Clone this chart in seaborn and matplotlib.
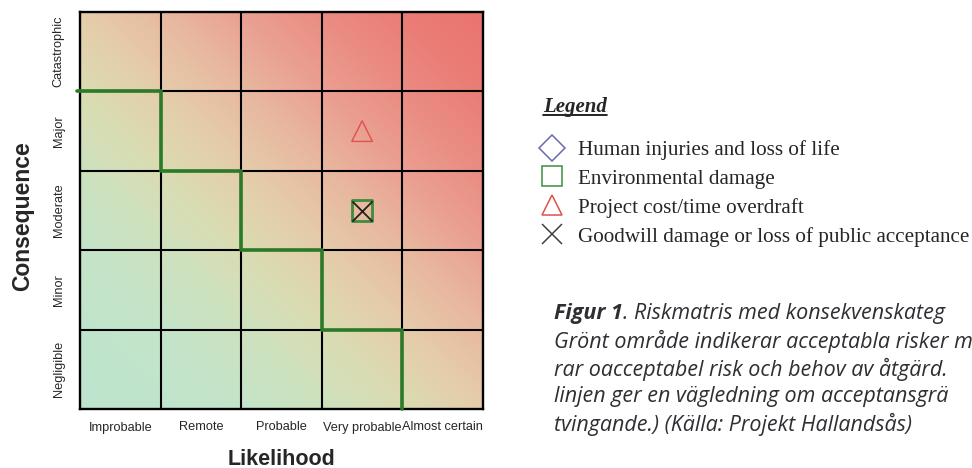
import numpy as np
import pandas as pd
import seaborn as sns
from matplotlib import pyplot as plt
from matplotlib.colors import LinearSegmentedColormap
from matplotlib.lines import Line2D

# Matrix categories
likelihood = ["Improbable", "Remote", "Probable", "Very probable", "Almost certain"]
consequence = ["Negligible", "Minor", "Moderate", "Major", "Catastrophic"]

# Acceptance line: highest acceptable consequence level per likelihood column
accept_level = [4, 3, 2, 1, 0]

# Risks placed in the matrix
risk_likelihood = ["Very probable", "Very probable", "Very probable"]
risk_consequence = ["Major", "Moderate", "Moderate"]
risk_type = ["Project cost/time overdraft", "Environmental damage",
             "Goodwill damage or loss of public acceptance"]

# Legend entries
legend_labels = ["Human injuries and loss of life", "Environmental damage",
                 "Project cost/time overdraft",
                 "Goodwill damage or loss of public acceptance"]
legend_markers = ["D", "s", "^", "x"]
legend_colors = ["#6a6aae", "#3c8c3c", "#e0504c", "#404040"]

caption_lines = ["Grönt område indikerar acceptabla risker m",
                 "rar oacceptabel risk och behov av åtgärd.",
                 "linjen ger en vägledning om acceptansgrä",
                 "tvingande.) (Källa: Projekt Hallandsås)"]

sns.set_style("white")
plt.rcParams["font.family"] = ["Liberation Sans", "DejaVu Sans"]

fig = plt.figure(figsize=(9.72, 4.68), dpi=100)
ax = fig.add_axes([80 / 972, 1 - 409 / 468, 403 / 972, 397 / 468])

# diagonal green -> tan -> red background (colour stops)
stops = [(0.0, (190, 229, 206)), (0.1, (192, 228, 204)), (0.2, (196, 228, 200)),
         (0.3, (205, 226, 191)), (0.4, (218, 220, 178)), (0.5, (229, 205, 170)),
         (0.6, (232, 185, 160)), (0.7, (234, 160, 145)), (0.8, (234, 140, 130)),
         (0.9, (234, 125, 118)), (1.0, (234, 116, 110))]
risk_cmap = LinearSegmentedColormap.from_list(
    "risk", [(p, tuple(v / 255 for v in c)) for p, c in stops])
gx, gy = np.meshgrid(np.linspace(0, 1, 200), np.linspace(0, 1, 200))
ax.imshow(gx + gy, extent=(0, 5, 0, 5), origin="lower", cmap=risk_cmap,
          vmin=0, vmax=2, aspect="auto", interpolation="bilinear", zorder=0)

for k in range(1, 5):
    ax.axvline(k, color="black", lw=1.5, zorder=2)
    ax.axhline(k, color="black", lw=1.5, zorder=2)
for sp in ax.spines.values():
    sp.set_visible(True)
    sp.set_color("black")
    sp.set_linewidth(1.7)

# acceptance boundary
ax.step(range(len(accept_level)), accept_level, where="post",
        color="#2a7a2a", lw=2.6, zorder=3, clip_on=False)
ax.plot([-0.04, 0], [accept_level[0], accept_level[0]], color="#2a7a2a",
        lw=2.6, zorder=3, clip_on=False)

risks = pd.DataFrame({"likelihood": risk_likelihood,
                      "consequence": risk_consequence,
                      "type": risk_type})
risks["x"] = [likelihood.index(v) + 0.5 for v in risks["likelihood"]]
risks["y"] = [consequence.index(v) + 0.5 for v in risks["consequence"]]

style = dict(zip(legend_labels, zip(legend_markers, legend_colors)))
for t, sub in risks.groupby("type", sort=False):
    m, c = style[t]
    if m == "x":
        sns.scatterplot(data=sub, x="x", y="y", marker="x", s=210, color="#202020",
                        linewidth=1.3, ax=ax, zorder=6, legend=False)
    else:
        sns.scatterplot(data=sub, x="x", y="y", marker=m, s=220, color=c,
                        facecolor="none", edgecolor=c,
                        linewidth=2.0 if m == "s" else 1.0,
                        ax=ax, zorder=5, legend=False)

ax.set_xlim(0, 5)
ax.set_ylim(0, 5)
ax.set_xticks(np.arange(5) + 0.5)
ax.set_xticklabels(likelihood, fontsize=9.2)
ax.set_yticks(np.arange(5) + 0.5)
ax.set_yticklabels(consequence, fontsize=9.2, rotation=90, va="center")
ax.tick_params(axis="both", length=0)
ax.tick_params(axis="x", pad=9)
ax.tick_params(axis="y", pad=11)

ax.set_xlabel("Likelihood", fontsize=15.5, fontweight="bold")
ax.set_ylabel("Consequence", fontsize=16.5, fontweight="bold")
ax.xaxis.set_label_coords(0.5, -0.10)
ax.yaxis.set_label_coords(-0.115, 0.486)

# legend block
serif = ["Liberation Serif", "DejaVu Serif"]
title = fig.text(543 / 972, 1 - 107 / 468, "Legend", family=serif, fontsize=15,
                 fontweight="bold", fontstyle="italic", va="center", ha="left")
handles = [Line2D([], [], marker=m, ls="", ms=15 if m != "D" else 13,
                  mfc="none", mec=c, mew=1.1) for m, c in zip(legend_markers, legend_colors)]
fig.legend(handles, legend_labels, loc="upper left",
           bbox_to_anchor=(542 / 972, 1 - 140 / 468), frameon=False,
           prop={"family": serif, "size": 15.2}, handlelength=0.95,
           handletextpad=0.75, labelspacing=0.43, borderpad=0, borderaxespad=0)

# caption
cap_color = "#2e2e33"
cap_font = ["Open Sans", "DejaVu Sans"]
cap_size = 15.5
cap_x = 554 / 972
fig_lbl = fig.text(cap_x, 1 - 314 / 468, "Figur 1", family=cap_font, fontsize=cap_size,
                   fontweight="bold", fontstyle="italic", color=cap_color, va="center")
for i, line in enumerate(caption_lines):
    fig.text(cap_x, 1 - (341.5 + 27.5 * i) / 468, line, family=cap_font, fontsize=cap_size,
             fontstyle="italic", color=cap_color, va="center")

fig.canvas.draw()
bb = fig_lbl.get_window_extent().transformed(fig.transFigure.inverted())
fig.text(bb.x1, 1 - 314 / 468, ". Riskmatris med konsekvenskateg", family=cap_font,
         fontsize=cap_size, fontstyle="italic", color=cap_color, va="center")
tb = title.get_window_extent().transformed(fig.transFigure.inverted())
fig.add_artist(Line2D([tb.x0, tb.x1], [tb.y0 + 0.004, tb.y0 + 0.004],
                      color="black", lw=1.2, transform=fig.transFigure))

fig.savefig("out.png", dpi=100)
